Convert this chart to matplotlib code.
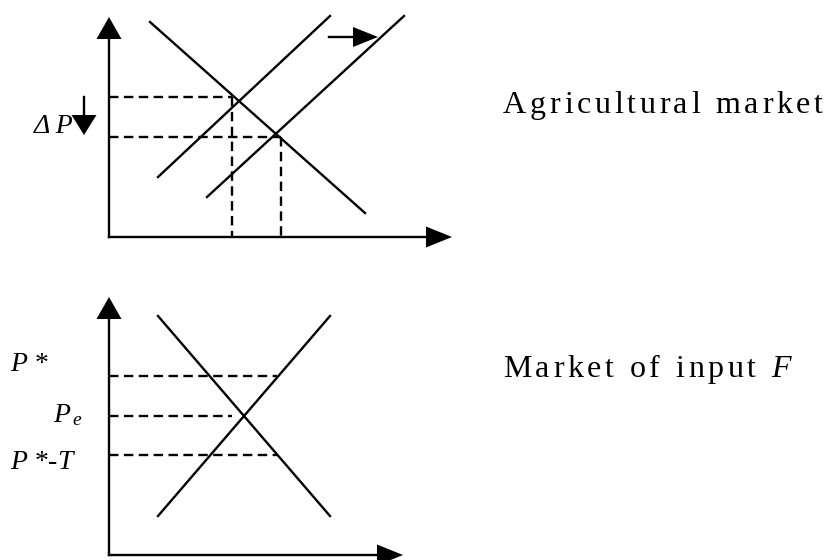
import numpy as np
import matplotlib
matplotlib.use("Agg")
import matplotlib.pyplot as plt
from matplotlib.patches import Polygon

# diagram coordinates (pixel-like units, y grows downward)
# top panel: agricultural market
top_origin = (109, 237)
top_yaxis_tip = 17
top_xaxis_tip = 452
top_demand_x = [150, 365]
top_demand_y = [22, 213]
top_supply1_x = [158, 330]
top_supply1_y = [177, 16]
top_supply2_x = [207, 404]
top_supply2_y = [197, 16]
top_eq_x = [232, 281]
top_eq_y = [97, 137]
shift_arrow_x = [329, 378]
shift_arrow_y = 37
dp_arrow_x = 84
dp_arrow_y = [97, 135]

# bottom panel: market of input F
bot_origin = (109, 555)
bot_yaxis_tip = 297
bot_xaxis_tip = 403
bot_demand_x = [158, 330]
bot_demand_y = [316, 516]
bot_supply_x = [158, 330]
bot_supply_y = [516, 316]
price_levels = [376, 416, 455]
price_ends = [277, 232, 277]
price_labels = [r"$P$ *", r"$P_{\,e}$", r"$P$ *-$T$"]
price_label_x = [10, 53, 10]
price_label_y = [371, 422, 469]

# panel titles: (text, italic?) pieces
panel_titles = [[("Agricultural market", False)],
                [("Market of input ", False), ("F", True)]]
panel_title_y = [113, 377]
panel_title_width = [320, 288]

plt.rcParams['font.family'] = ['Liberation Serif', 'DejaVu Serif']
plt.rcParams['mathtext.fontset'] = 'custom'
plt.rcParams['mathtext.it'] = 'Liberation Serif:italic'
plt.rcParams['mathtext.rm'] = 'Liberation Serif'

fig = plt.figure(figsize=(8.28, 5.60), dpi=100)
ax = fig.add_axes([0, 0, 1, 1])
ax.set_xlim(0, 828)
ax.set_ylim(560, 0)
ax.axis('off')
renderer = fig.canvas.get_renderer()

lw = 1.7
dash = (0, (4.0, 2.3))


def head(tip, direction, length=22, half=12.5):
    # filled triangle arrow head
    tx, ty = tip
    dx, dy = direction
    bx, by = tx - dx * length, ty - dy * length
    px, py = -dy * half, dx * half
    ax.add_patch(Polygon([(tx, ty), (bx + px, by + py), (bx - px, by - py)],
                         closed=True, color='black', lw=0))


def axes_pair(origin, ytip, xtip):
    ox, oy = origin
    ax.plot([ox, ox], [oy, ytip + 15], color='black', lw=lw)
    ax.plot([ox, xtip - 15], [oy, oy], color='black', lw=lw)
    head((ox, ytip), (0, -1))
    head((xtip, oy), (1, 0), length=26, half=10.5)


def char_width(ch, size, italic):
    style = 'italic' if italic else 'normal'
    if ch == ' ':
        a = ax.text(0, 0, "n n", fontsize=size, fontstyle=style)
        b = ax.text(0, 0, "nn", fontsize=size, fontstyle=style)
        w = a.get_window_extent(renderer).width - b.get_window_extent(renderer).width
        a.remove()
        b.remove()
        return w
    t = ax.text(0, 0, ch, fontsize=size, fontstyle=style)
    w = t.get_window_extent(renderer).width
    t.remove()
    return w


def tracked_text(x, y, pieces, size, width):
    # spread letters out so the line fills the given width
    chars = [(c, it) for s, it in pieces for c in s]
    widths = [char_width(c, size, it) for c, it in chars]
    track = (width - sum(widths)) / (len(chars) - 1)
    for (c, it), w in zip(chars, widths):
        if c != ' ':
            ax.text(x, y, c, fontsize=size, va='baseline', ha='left',
                    fontstyle='italic' if it else 'normal')
        x += w + track


# top panel
axes_pair(top_origin, top_yaxis_tip, top_xaxis_tip)
ax.plot(top_demand_x, top_demand_y, color='black', lw=lw)
ax.plot(top_supply1_x, top_supply1_y, color='black', lw=lw)
ax.plot(top_supply2_x, top_supply2_y, color='black', lw=lw)
for ex, ey in zip(top_eq_x, top_eq_y):
    ax.plot([top_origin[0], ex], [ey, ey], color='black', lw=lw, linestyle=dash)
    ax.plot([ex, ex], [ey, top_origin[1]], color='black', lw=lw, linestyle=dash)
ax.plot([shift_arrow_x[0], shift_arrow_x[1] - 20], [shift_arrow_y] * 2, color='black', lw=lw)
head((shift_arrow_x[1], shift_arrow_y), (1, 0), length=25, half=10)
ax.plot([dp_arrow_x] * 2, [dp_arrow_y[0], dp_arrow_y[1] - 18], color='black', lw=lw)
head((dp_arrow_x, dp_arrow_y[1]), (0, 1), length=20, half=12.5)
ax.text(34, 133, "Δ P", fontsize=20, fontstyle='italic', ha='left', va='baseline')

# bottom panel
axes_pair(bot_origin, bot_yaxis_tip, bot_xaxis_tip)
ax.plot(bot_demand_x, bot_demand_y, color='black', lw=lw)
ax.plot(bot_supply_x, bot_supply_y, color='black', lw=lw)
for py, pe in zip(price_levels, price_ends):
    ax.plot([bot_origin[0], pe], [py, py], color='black', lw=lw, linestyle=dash)
for lab, lx, ly in zip(price_labels, price_label_x, price_label_y):
    ax.text(lx, ly, lab, fontsize=20, ha='left', va='baseline')

for pieces, ty, tw in zip(panel_titles, panel_title_y, panel_title_width):
    tracked_text(503, ty, pieces, 23, tw)

fig.savefig("out.png", dpi=100)
